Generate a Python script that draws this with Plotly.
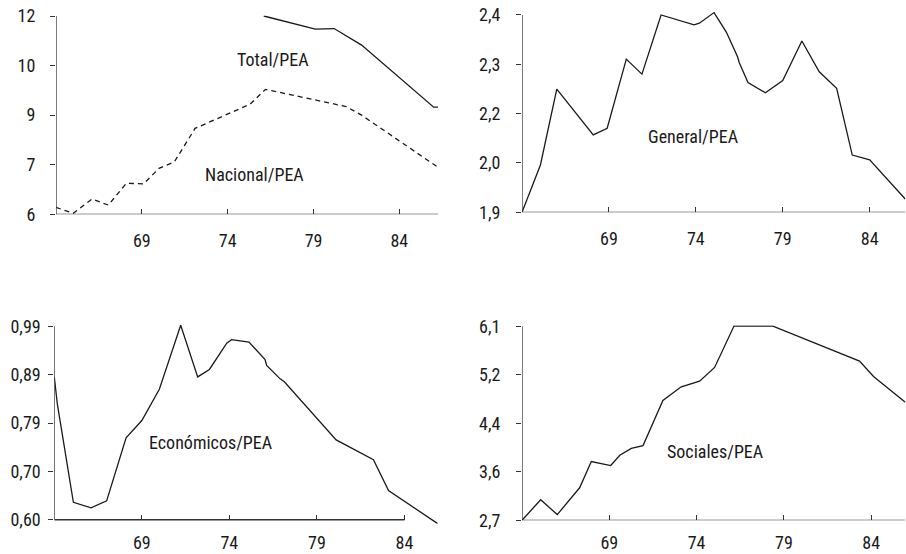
import plotly.graph_objects as go

# ---- data -------------------------------------------------------------
year_ticks = [69, 74, 79, 84]
year_labels = ["69", "74", "79", "84"]

total_years = [76.1, 79.1, 80.2, 81.8, 86.0, 86.25]
total_vals = [12.0, 11.6, 11.62, 11.12, 9.24, 9.24]

nacional_years = [64.0, 65.0, 66.1, 67.05, 68.1, 69.1, 70.0, 70.9, 72.1, 75.3, 76.2, 80.9, 81.8, 86.2]
nacional_vals = [6.21, 6.03, 6.46, 6.28, 6.94, 6.92, 7.39, 7.59, 8.60, 9.33, 9.78, 9.26, 9.00, 7.44]

general_years = [64.0, 65.06, 66.0, 68.1, 68.9, 70.0, 70.9, 72.0, 73.9, 74.2, 75.05, 75.76,
                 76.4, 76.5, 77.0, 78.0, 79.0, 80.1, 81.1, 82.1, 83.0, 84.0, 86.06]
general_vals = [1.900, 2.020, 2.212, 2.096, 2.113, 2.288, 2.250, 2.400, 2.375, 2.379, 2.406, 2.356,
                2.294, 2.279, 2.229, 2.203, 2.234, 2.334, 2.256, 2.214, 2.045, 2.033, 1.933]

economicos_years = [64.0, 64.17, 65.09, 66.1, 66.99, 68.1, 69.0, 70.0, 71.22, 72.19, 72.86, 73.85,
                    74.13, 75.12, 76.04, 76.13, 76.9, 77.14, 80.1, 82.23, 83.09, 85.9]
economicos_vals = [0.888, 0.834, 0.635, 0.624, 0.638, 0.765, 0.800, 0.863, 0.992, 0.888, 0.903, 0.956,
                   0.963, 0.958, 0.923, 0.911, 0.884, 0.878, 0.761, 0.721, 0.659, 0.592]

sociales_years = [64.0, 65.07, 66.02, 66.73, 67.3, 67.97, 69.08, 69.6, 70.26, 70.93, 72.07, 73.12,
                  74.17, 75.03, 76.14, 78.37, 83.33, 84.13, 85.95]
sociales_vals = [2.70, 3.06, 2.80, 3.05, 3.27, 3.73, 3.66, 3.84, 3.96, 4.01, 4.80, 5.04,
                 5.14, 5.38, 6.105, 6.105, 5.49, 5.22, 4.77]

total_ticks = [6, 7.5, 9, 10.5, 12]
total_labels = ["6", "7", "9", "10", "12"]
general_ticks = [1.9, 2.025, 2.15, 2.275, 2.4]
general_labels = ["1,9", "2,0", "2,2", "2,3", "2,4"]
economicos_ticks = [0.60, 0.6975, 0.795, 0.8925, 0.99]
economicos_labels = ["0,60", "0,70", "0,79", "0,89", "0,99"]
sociales_ticks = [2.7, 3.55, 4.4, 5.25, 6.1]
sociales_labels = ["2,7", "3,6", "4,4", "5,2", "6,1"]

# ---- styling ----------------------------------------------------------
FONT = "Liberation Sans Narrow, Arial Narrow, Roboto Condensed, Roboto, sans-serif"
INK = "#1a1a1a"
AXIS = "#333333"
FS = 18

W, H = 906, 554

fig = go.Figure()

panels = [
    dict(s="", xd=[56 / W, 438 / W], yd=[1 - 214.3 / H, 1 - 15.5 / H], xr=[64, 86.25], yr=[6, 12.015],
         yt=total_ticks, yl=total_labels, xend=86.25, endtick=True, ystand=11, xstand=14),
    dict(s="2", xd=[522 / W, 905.3 / W], yd=[1 - 212.3 / H, 1 - 11 / H], xr=[64, 86.05], yr=[1.9, 2.41],
         yt=general_ticks, yl=general_labels, xend=86.05, endtick=True, ystand=12, xstand=14),
    dict(s="3", xd=[54.3 / W, 437.7 / W], yd=[1 - 523.7 / H, 1 - 324.8 / H], xr=[64, 85.9], yr=[0.592, 0.993],
         yt=economicos_ticks, yl=economicos_labels, xend=84.0, endtick=False, ystand=4, xstand=10),
    dict(s="4", xd=[522 / W, 905.3 / W], yd=[1 - 520.3 / H, 1 - 325.2 / H], xr=[64, 85.95],
         yr=[2.7, 6.12], yt=sociales_ticks, yl=sociales_labels, xend=85.95, endtick=True, ystand=12, xstand=10),
]

series = [
    ("", total_years, total_vals, "solid"),
    ("", nacional_years, nacional_vals, "5px,4px"),
    ("2", general_years, general_vals, "solid"),
    ("3", economicos_years, economicos_vals, "solid"),
    ("4", sociales_years, sociales_vals, "solid"),
]

for s, xs, ys, dash in series:
    fig.add_trace(go.Scatter(
        x=xs, y=ys, mode="lines", xaxis="x" + s, yaxis="y" + s,
        line=dict(color=INK, width=1.3, dash=dash), hoverinfo="skip", showlegend=False,
    ))

for p in panels:
    s = p["s"]
    y0 = p["yt"][0]
    ytop = p["yt"][-1]
    xt = list(year_ticks)
    xl = list(year_labels)
    if p["endtick"]:
        xt.append(p["xend"])
        xl.append("")
    xaxis = dict(
        domain=p["xd"], range=p["xr"], anchor="y" + s, automargin=False,
        tickvals=xt, ticktext=xl, ticks="inside", ticklen=5, tickwidth=1.2, tickcolor=AXIS,
        showline=False, showgrid=False, zeroline=False, ticklabelstandoff=p["xstand"],
        tickfont=dict(family=FONT, size=FS, color=INK),
    )
    if y0 > p["yr"][0]:
        # axis sits on the lowest tick, not on the bottom of the plotting area
        yd = p["yd"]
        frac = (y0 - p["yr"][0]) / (p["yr"][1] - p["yr"][0])
        xaxis["anchor"] = "free"
        xaxis["position"] = yd[0] + frac * (yd[1] - yd[0])
    yaxis = dict(
        domain=p["yd"], range=p["yr"], anchor="x" + s, automargin=False,
        tickvals=p["yt"], ticktext=p["yl"], ticks="outside", ticklen=5, tickwidth=1.2, tickcolor=AXIS,
        showline=False, showgrid=False, zeroline=False, ticklabelstandoff=p["ystand"],
        tickfont=dict(family=FONT, size=FS, color=INK),
    )
    fig.update_layout(**{"xaxis" + s: xaxis, "yaxis" + s: yaxis})
    # axis lines spanning from the first to the last tick
    fig.add_shape(type="line", xref="x" + s, yref="y" + s, x0=p["xr"][0], x1=p["xr"][0], y0=y0, y1=ytop,
                  line=dict(color=AXIS, width=1.3))
    fig.add_shape(type="line", xref="x" + s, yref="y" + s, x0=p["xr"][0], x1=p["xend"], y0=y0, y1=y0,
                  line=dict(color=AXIS, width=1.3))

labels = [
    ("", 76.64, 10.68, "Total/PEA"),
    ("", 75.59, 7.19, "Nacional/PEA"),
    ("2", 73.84, 2.091, "General/PEA"),
    ("3", 72.95, 0.7567, "Económicos/PEA"),
    ("4", 75.08, 3.914, "Sociales/PEA"),
]
for s, x, y, t in labels:
    fig.add_annotation(x=x, y=y, xref="x" + s, yref="y" + s, text=t, showarrow=False,
                       font=dict(family=FONT, size=FS, color=INK), xanchor="center", yanchor="middle")

fig.update_layout(
    width=W, height=H, margin=dict(l=0, r=0, t=0, b=0),
    paper_bgcolor="white", plot_bgcolor="white", showlegend=False,
)

fig.write_html("out.html")
